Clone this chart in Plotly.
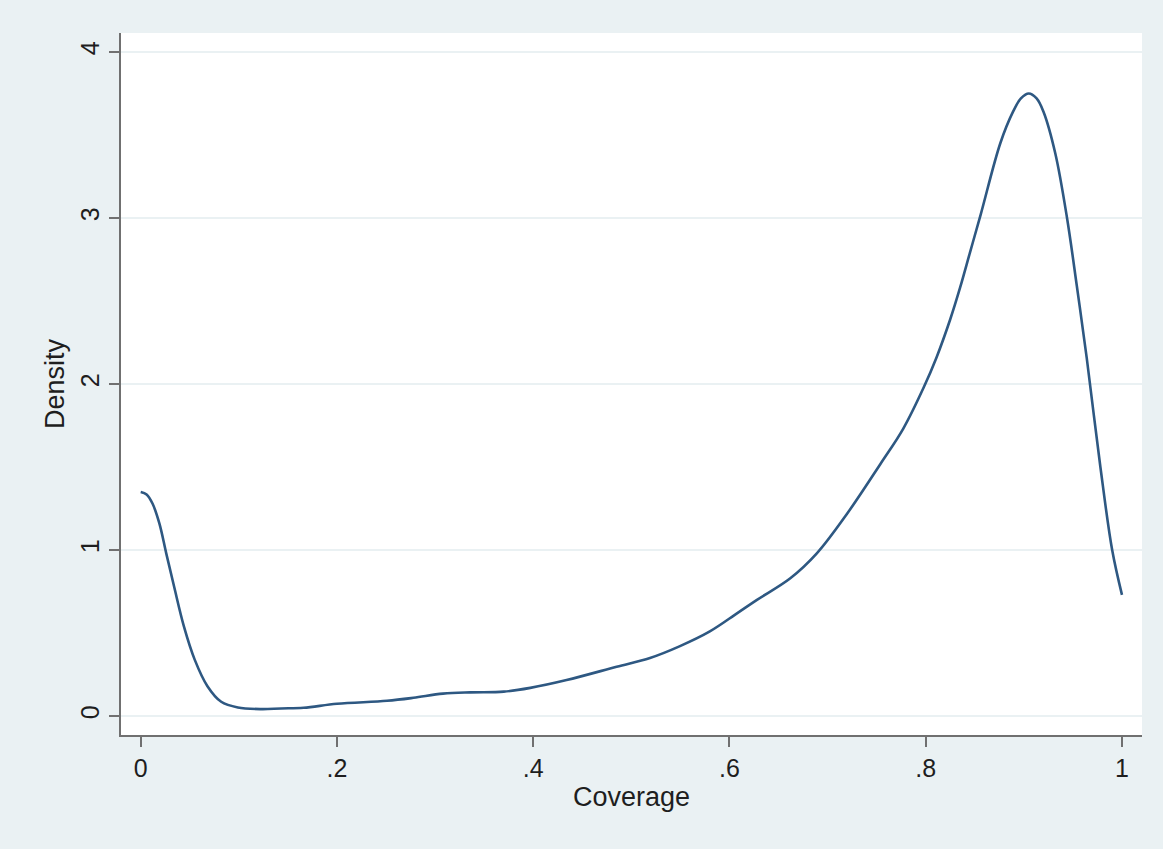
import plotly.graph_objects as go

# Kernel density estimate of Coverage
coverage = [0.0, 0.006, 0.012, 0.019, 0.026, 0.034, 0.044, 0.055, 0.068, 0.082,
            0.099, 0.123, 0.143, 0.166, 0.200, 0.251, 0.278, 0.308, 0.336, 0.370,
            0.397, 0.434, 0.485, 0.519, 0.549, 0.580, 0.608, 0.628, 0.662, 0.689,
            0.720, 0.754, 0.777, 0.798, 0.811, 0.825, 0.835, 0.845, 0.856, 0.876,
            0.889, 0.897, 0.905, 0.913, 0.920, 0.932, 0.944, 0.954, 0.964, 0.978,
            0.990, 1.0]
density = [1.35, 1.335, 1.28, 1.16, 0.98, 0.78, 0.54, 0.34, 0.18, 0.086,
           0.052, 0.042, 0.046, 0.05, 0.074, 0.092, 0.11, 0.135, 0.143, 0.147,
           0.17, 0.217, 0.297, 0.35, 0.42, 0.51, 0.62, 0.70, 0.83, 0.98,
           1.22, 1.52, 1.73, 1.98, 2.16, 2.39, 2.58, 2.79, 3.02, 3.45,
           3.64, 3.72, 3.75, 3.72, 3.64, 3.39, 3.0, 2.59, 2.16, 1.50,
           1.0, 0.73]

x_tickvals = [0, 0.2, 0.4, 0.6, 0.8, 1.0]
x_ticktext = ["0", ".2", ".4", ".6", ".8", "1"]
y_tickvals = [0, 1, 2, 3, 4]
y_ticktext = ["0", "1", "2", "3", "4"]

BG = "#eaf1f3"
AXIS = "#707070"
TEXT = "#1e1e1e"
FONT = "Liberation Sans, Arial, Helvetica, sans-serif"

fig = go.Figure()
fig.add_trace(go.Scatter(
    x=coverage, y=density, mode="lines",
    line=dict(color="#2e5882", width=2.6, shape="spline", smoothing=1.0),
    showlegend=False, hoverinfo="x+y",
))

fig.update_layout(
    width=1163, height=849,
    paper_bgcolor=BG, plot_bgcolor="white",
    margin=dict(l=121, r=21, t=33, b=114, autoexpand=False),
    font=dict(family=FONT, color=TEXT, size=25),
    xaxis=dict(
        range=[-0.0201, 1.0204], tickvals=x_tickvals, ticktext=x_ticktext,
        showgrid=False, zeroline=False, showline=True, linecolor=AXIS, linewidth=2,
        ticks="outside", ticklen=10, tickwidth=1.6, tickcolor=AXIS,
        tickfont=dict(size=25, family=FONT, color=TEXT),
        title=dict(text="Coverage", font=dict(size=27, family=FONT, color=TEXT), standoff=6),
        automargin=False,
    ),
    yaxis=dict(
        range=[-0.114, 4.114], tickvals=y_tickvals, ticktext=y_ticktext,
        showgrid=True, gridcolor=BG, gridwidth=1.6, zeroline=False,
        showline=True, linecolor=AXIS, linewidth=2,
        ticks="outside", ticklen=10, tickwidth=1.6, tickcolor=AXIS,
        tickangle=-90,
        tickfont=dict(size=25, family=FONT, color=TEXT),
        title=dict(text="Density", font=dict(size=27, family=FONT, color=TEXT), standoff=4),
        automargin=False,
    ),
)

fig.write_html("out.html")
